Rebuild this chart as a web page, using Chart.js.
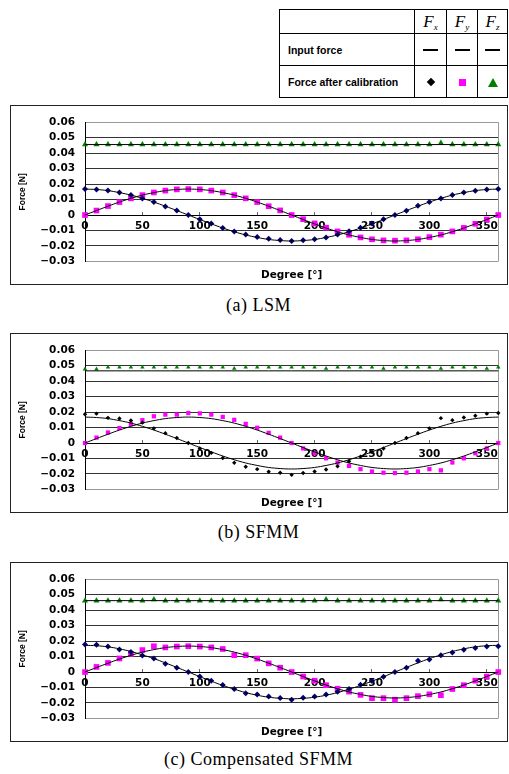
<!DOCTYPE html>
<html>
<head>
<meta charset="utf-8">
<script src="https://cdn.jsdelivr.net/npm/chart.js@4"></script>
<style>
body { margin:0; background:#fff; width:509px; height:774px; position:relative; overflow:hidden; }
.frame { position:absolute; left:10px; width:496px; height:178px; border:1px solid #222; }
.frame canvas { display:block; }
.caption { position:absolute; left:0; width:517px; text-align:center; font-family:"Liberation Serif", serif; font-size:18px; letter-spacing:0.5px; color:#000; }
table.key { position:absolute; left:279px; top:9px; border-collapse:collapse; font-family:"Liberation Sans", Arial, sans-serif; }
table.key td { border:1px solid #000; padding:0; text-align:center; }
table.key td.lbl { text-align:left; padding-left:8px; font-weight:bold; font-size:10.5px; }
.F { font-family:"Liberation Serif", serif; font-style:italic; font-size:17px; }
.F sub { font-size:9px; vertical-align:-3px; }
.dash { display:inline-block; width:15px; height:2px; background:#000; vertical-align:middle; }
.dia { display:inline-block; width:6px; height:6px; background:#000; transform:rotate(45deg); vertical-align:middle; }
.sq { display:inline-block; width:7px; height:7px; background:#f0f; vertical-align:middle; }
.tri { display:inline-block; width:0; height:0; border-left:5px solid transparent; border-right:5px solid transparent; border-bottom:9px solid #008000; vertical-align:middle; }
</style>
</head>
<body>

<table class="key">
  <tr style="height:24px"><td style="width:134px"></td><td style="width:31px" class="F">F<sub>x</sub></td><td style="width:30px" class="F">F<sub>y</sub></td><td style="width:29px" class="F">F<sub>z</sub></td></tr>
  <tr style="height:32px"><td class="lbl">Input force</td><td><span class="dash"></span></td><td><span class="dash"></span></td><td><span class="dash"></span></td></tr>
  <tr style="height:32px"><td class="lbl">Force after calibration</td><td><span class="dia"></span></td><td><span class="sq"></span></td><td><span class="tri"></span></td></tr>
</table>

<div class="frame" style="top:105px"><canvas id="lsm" width="496" height="178"></canvas></div>
<div class="caption" style="top:295px">(a) LSM</div>

<div class="frame" style="top:333px"><canvas id="sfmm" width="496" height="178"></canvas></div>
<div class="caption" style="top:522px">(b) SFMM</div>

<div class="frame" style="top:562px"><canvas id="comp" width="496" height="178"></canvas></div>
<div class="caption" style="top:749px">(c) Compensated SFMM</div>

<script>
var degrees = [0, 10, 20, 30, 40, 50, 60, 70, 80, 90, 100, 110, 120, 130, 140, 150, 160, 170, 180,
    190, 200, 210, 220, 230, 240, 250, 260, 270, 280, 290, 300, 310, 320, 330, 340, 350, 360];
var fzLineDeg = [0, 360];
var xTickValues = [0, 50, 100, 150, 200, 250, 300, 350];
var yTickValues = [-0.03, -0.02, -0.01, 0, 0.01, 0.02, 0.03, 0.04, 0.05, 0.06];

// input force (solid lines)
var inputFx = [0.0168, 0.0165, 0.0158, 0.0145, 0.0129, 0.0108, 0.0084, 0.0057, 0.0029, 0, -0.0029, -0.0057, -0.0084, -0.0108, -0.0129, -0.0145, -0.0158, -0.0165, -0.0168,
    -0.0165, -0.0158, -0.0145, -0.0129, -0.0108, -0.0084, -0.0057, -0.0029, 0, 0.0029, 0.0057, 0.0084, 0.0108, 0.0129, 0.0145, 0.0158, 0.0165, 0.0168];
var inputFy = [0, 0.0029, 0.0057, 0.0084, 0.0108, 0.0129, 0.0145, 0.0158, 0.0165, 0.0168, 0.0165, 0.0158, 0.0145, 0.0129, 0.0108, 0.0084, 0.0057, 0.0029, 0,
    -0.0029, -0.0057, -0.0084, -0.0108, -0.0129, -0.0145, -0.0158, -0.0165, -0.0168, -0.0165, -0.0158, -0.0145, -0.0129, -0.0108, -0.0084, -0.0057, -0.0029, 0];
var compInputFx = [0.0173, 0.017, 0.0163, 0.015, 0.0133, 0.0111, 0.0087, 0.0059, 0.003, 0, -0.003, -0.0059, -0.0087, -0.0111, -0.0133, -0.015, -0.0163, -0.017, -0.0173,
    -0.017, -0.0163, -0.015, -0.0133, -0.0111, -0.0087, -0.0059, -0.003, 0, 0.003, 0.0059, 0.0087, 0.0111, 0.0133, 0.015, 0.0163, 0.017, 0.0173];
var lsmInputFz = [0.0456, 0.0456];
var sfmmInputFz = [0.0467, 0.0467];
var compInputFz = [0.0462, 0.0462];

// (a) LSM
var lsmFx = [0.0168, 0.0166, 0.0158, 0.0146, 0.0129, 0.0107, 0.0084, 0.0056, 0.0029, 0, -0.0027, -0.0055, -0.0084, -0.0107, -0.0126, -0.0142, -0.0154, -0.0162, -0.0168,
    -0.0163, -0.0156, -0.0145, -0.0126, -0.0105, -0.0082, -0.0055, -0.0028, 0, 0.0028, 0.006, 0.0084, 0.0107, 0.0129, 0.0146, 0.0157, 0.0166, 0.0168];
var lsmFy = [0, 0.0029, 0.0058, 0.0084, 0.0108, 0.0129, 0.0146, 0.0158, 0.0166, 0.0168, 0.0166, 0.0158, 0.0146, 0.0129, 0.0108, 0.0084, 0.0057, 0.003, 0,
    -0.0027, -0.0054, -0.0082, -0.0106, -0.0128, -0.0145, -0.0157, -0.0164, -0.0166, -0.0164, -0.0157, -0.0143, -0.0127, -0.0106, -0.0083, -0.0057, -0.0029, 0];
var lsmFz = [0.0456, 0.0456, 0.0456, 0.0456, 0.0456, 0.0456, 0.0456, 0.0456, 0.0456, 0.0456, 0.0456, 0.0456, 0.0456, 0.0456, 0.0456, 0.0456, 0.0456, 0.0456, 0.0456,
    0.0456, 0.0456, 0.0456, 0.0456, 0.0456, 0.0456, 0.0456, 0.0456, 0.0456, 0.0456, 0.0456, 0.0456, 0.0466, 0.0456, 0.0456, 0.0456, 0.0456, 0.0456];

// (b) SFMM
var sfmmFx = [0.0186, 0.019, 0.0163, 0.0159, 0.0146, 0.0132, 0.0095, 0.0064, 0.0033, 0, -0.0035, -0.0064, -0.0097, -0.0128, -0.0153, -0.0169, -0.0186, -0.0192, -0.0206,
    -0.0194, -0.0184, -0.0171, -0.015, -0.0118, -0.0088, -0.0058, -0.0035, 0, 0.0033, 0.0064, 0.0095, 0.0161, 0.0148, 0.0165, 0.0177, 0.019, 0.0194];
var sfmmFy = [0, 0.0035, 0.0068, 0.0097, 0.0124, 0.0148, 0.0173, 0.0184, 0.0184, 0.0194, 0.0192, 0.0184, 0.0169, 0.015, 0.0124, 0.0099, 0.0066, 0.0035, 0,
    -0.0035, -0.0066, -0.0099, -0.0126, -0.0148, -0.0169, -0.0184, -0.0192, -0.0194, -0.0192, -0.0184, -0.0169, -0.0177, -0.0126, -0.0099, -0.0066, -0.0035, 0];
var sfmmFz = [0.0478, 0.0478, 0.049, 0.049, 0.049, 0.049, 0.049, 0.049, 0.049, 0.049, 0.049, 0.049, 0.049, 0.0482, 0.049, 0.049, 0.049, 0.049, 0.049,
    0.049, 0.049, 0.0482, 0.049, 0.049, 0.049, 0.049, 0.0482, 0.049, 0.049, 0.049, 0.049, 0.0482, 0.049, 0.049, 0.049, 0.0482, 0.049];

// (c) Compensated SFMM
var compFx = [0.0178, 0.0176, 0.0165, 0.0146, 0.013, 0.0107, 0.0088, 0.0054, 0.0027, 0, -0.0029, -0.0056, -0.0084, -0.0109, -0.0138, -0.0146, -0.0158, -0.0168, -0.0179,
    -0.0167, -0.0158, -0.0146, -0.0127, -0.011, -0.0083, -0.0058, -0.0031, 0, 0.0027, 0.0073, 0.0081, 0.0108, 0.0127, 0.0144, 0.0156, 0.0165, 0.0167];
var compFy = [0, 0.0033, 0.0059, 0.0088, 0.0117, 0.0142, 0.0167, 0.0159, 0.0165, 0.0167, 0.0165, 0.0159, 0.0149, 0.0109, 0.0109, 0.0087, 0.0056, 0.0028, 0,
    -0.0029, -0.0056, -0.0085, -0.0108, -0.0127, -0.0148, -0.0169, -0.0169, -0.0179, -0.0169, -0.0156, -0.0144, -0.015, -0.011, -0.0085, -0.0056, -0.0029, 0];
var compFz = [0.0462, 0.0462, 0.0462, 0.0462, 0.0462, 0.0462, 0.0469, 0.0462, 0.0462, 0.0462, 0.0462, 0.0462, 0.0462, 0.0462, 0.0462, 0.0462, 0.0462, 0.0462, 0.0462,
    0.0462, 0.0462, 0.047, 0.0462, 0.0462, 0.0462, 0.0462, 0.0462, 0.0462, 0.0462, 0.0462, 0.0462, 0.047, 0.0462, 0.0462, 0.0462, 0.0462, 0.0462];

function pairs(xs, ys) {
    return xs.map((x, i) => ({ x: x, y: ys[i] }));
}

// gray right edge of the plot area
const plotEdge = {
    id: 'plotEdge',
    beforeDatasetsDraw(chart) {
        const a = chart.chartArea;
        const ctx = chart.ctx;
        const x = Math.round(a.right) + 0.5;
        ctx.save();
        ctx.strokeStyle = '#999';
        ctx.lineWidth = 1;
        ctx.beginPath();
        ctx.moveTo(x, a.top);
        ctx.lineTo(x, a.bottom);
        ctx.stroke();
        ctx.restore();
    }
};

function drawForceChart(id, fx, fy, fz, inFx, inFy, inFz, look) {
    const tickFont = { family: 'DejaVu Sans', weight: 'bold', size: 10.5 };
    const lineStyle = { borderColor: '#000', borderWidth: 1, pointRadius: 0, tension: 0.4, showLine: true, order: 0, clip: false };
    const markStyle = { showLine: false, borderWidth: 0, order: 1, clip: false };

    new Chart(document.getElementById(id), {
        type: 'line',
        data: {
            datasets: [
                Object.assign({ label: 'Fx input', data: pairs(degrees, inFx) }, lineStyle),
                Object.assign({ label: 'Fy input', data: pairs(degrees, inFy) }, lineStyle),
                Object.assign({ label: 'Fz input', data: pairs(fzLineDeg, inFz) }, lineStyle),
                Object.assign({ label: 'Fx', data: pairs(degrees, fx), pointStyle: 'rectRot',
                    pointRadius: look.diaR, backgroundColor: look.fxColor, borderColor: look.fxColor }, markStyle),
                Object.assign({ label: 'Fy', data: pairs(degrees, fy), pointStyle: 'rect',
                    pointRadius: look.sqR, backgroundColor: '#ff00ff', borderColor: '#ff00ff' }, markStyle),
                Object.assign({ label: 'Fz', data: pairs(degrees, fz), pointStyle: 'triangle',
                    pointRadius: look.triR, backgroundColor: '#008000', borderColor: '#008000' }, markStyle)
            ]
        },
        options: {
            responsive: false,
            animation: false,
            events: [],
            layout: { padding: { left: 2, right: 7, top: look.top, bottom: 2 } },
            plugins: {
                legend: { display: false },
                tooltip: { enabled: false },
                title: {
                    display: true, position: 'bottom', fullSize: false,
                    text: 'Degree [°]', color: '#000',
                    font: { family: 'DejaVu Sans', weight: 'bold', size: 10.5 },
                    padding: { top: 8, bottom: 0 }
                }
            },
            scales: {
                x: {
                    type: 'linear', min: 0, max: 360,
                    position: { y: 0 },
                    afterBuildTicks: axis => {
                        axis.ticks = xTickValues.map(v => ({ value: v }));
                    },
                    ticks: { autoSkip: false, maxRotation: 0, color: '#000', font: tickFont, padding: 9 },
                    grid: { drawOnChartArea: false, drawTicks: true, tickLength: -4, tickColor: '#666' },
                    border: { display: true, color: '#000', width: 1 }
                },
                y: {
                    min: -0.03, max: 0.06,
                    afterBuildTicks: axis => {
                        axis.ticks = yTickValues.map(v => ({ value: v }));
                    },
                    ticks: {
                        autoSkip: false, color: '#000', font: tickFont, padding: 10,
                        callback: v => {
                            const r = Math.round(v * 100) / 100;
                            return r === 0 ? '0' : r.toFixed(2).replace('-', '\u2212');
                        }
                    },
                    grid: {
                        drawTicks: false,
                        color: c => (c.tick && (Math.abs(c.tick.value - 0.06) < 1e-6 || Math.abs(c.tick.value + 0.03) < 1e-6)) ? '#999' : '#333'
                    },
                    border: { color: '#000' },
                    title: {
                        display: true, text: 'Force [N]', color: '#000',
                        font: { family: 'Liberation Sans Narrow, Liberation Sans', weight: 'bold', size: 8.5 },
                        padding: { top: 5, bottom: 0 }
                    },
                    afterFit: axis => { axis.width = 72; }
                }
            }
        },
        plugins: [plotEdge]
    });
}

drawForceChart('lsm', lsmFx, lsmFy, lsmFz, inputFx, inputFy, lsmInputFz,
    { top: 10, fxColor: '#000080', diaR: 3, sqR: 4, triR: 3.5 });
drawForceChart('sfmm', sfmmFx, sfmmFy, sfmmFz, inputFx, inputFy, sfmmInputFz,
    { top: 10, fxColor: '#000000', diaR: 2.2, sqR: 3, triR: 2.6 });
drawForceChart('comp', compFx, compFy, compFz, compInputFx, inputFy, compInputFz,
    { top: 12.5, fxColor: '#000080', diaR: 3, sqR: 4, triR: 3.5 });
</script>
</body>
</html>
